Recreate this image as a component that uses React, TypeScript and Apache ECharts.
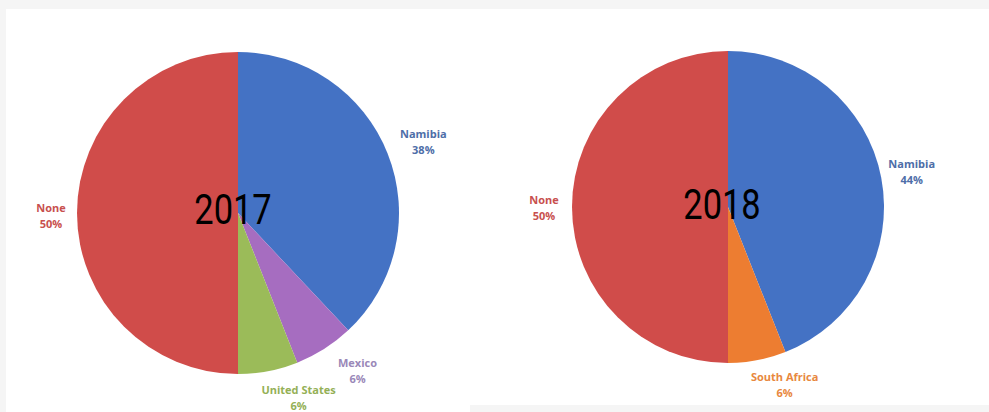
import React, { useEffect, useRef } from "react";
import * as echarts from "echarts";

const categories2017 = ["Namibia", "Mexico", "United States", "None"];
const values2017 = [38, 6, 6, 50];
const colors2017 = ["#4472C4", "#A66DC0", "#9BBB59", "#D04C4A"];
const labelColors2017 = ["#4E6EA8", "#9A88B8", "#94B056", "#C8504E"];

const categories2018 = ["Namibia", "South Africa", "None"];
const values2018 = [44, 6, 50];
const colors2018 = ["#4472C4", "#ED7D31", "#D04C4A"];
const labelColors2018 = ["#4E6EA8", "#E8883E", "#C8504E"];

const yearLabels = ["2017", "2018"];

// label nudges (layout only)
const labelShift2017 = [[4, 0], [15, -7], [24, -7], [8, 2]];
const labelShift2018 = [[2, -1], [22, -4], [1, 0]];

function buildData(cats: string[], vals: number[], cols: string[]) {
  return cats.map((c, i) => ({ name: c, value: vals[i], itemStyle: { color: cols[i] } }));
}

function buildLabelData(cats: string[], vals: number[], lcols: string[]) {
  return cats.map((c, i) => ({
    name: c,
    value: vals[i],
    itemStyle: { color: "rgba(0,0,0,0)" },
    label: { color: lcols[i] },
  }));
}

export default function App() {
  const ref = useRef<HTMLDivElement>(null);
  useEffect(() => {
    document.body.style.margin = "0";
    if (!ref.current) return;
    const chart = echarts.init(ref.current, undefined, { renderer: "svg" });
    const labelStyle = {
      show: true,
      position: "inside" as const,
      formatter: (p: any) => `${p.name}\n${p.value}%`,
      fontSize: 11,
      fontWeight: "bold" as const,
      lineHeight: 16,
      fontFamily: "'Open Sans', 'Liberation Sans', sans-serif",
    };
    const yearFont = "Roboto, 'Liberation Sans', sans-serif";
    chart.setOption({
      animation: false,
      backgroundColor: "#f5f5f5",
      graphic: [
        { type: "rect", z: -10, shape: { x: 6, y: 9, width: 983, height: 396 }, style: { fill: "#ffffff" } },
        { type: "rect", z: -10, shape: { x: 6, y: 400, width: 464, height: 12 }, style: { fill: "#ffffff" } },
        {
          type: "text", z: 100, x: 233, y: 209, scaleX: 0.82,
          style: { text: yearLabels[0], fontSize: 42, fontWeight: 400, fontFamily: yearFont, fill: "#000", align: "center", verticalAlign: "middle" },
        },
        {
          type: "text", z: 100, x: 722, y: 204, scaleX: 0.82,
          style: { text: yearLabels[1], fontSize: 42, fontWeight: 400, fontFamily: yearFont, fill: "#000", align: "center", verticalAlign: "middle" },
        },
      ],
      series: [
        {
          type: "pie", center: [238, 213], radius: 161, startAngle: 90, clockwise: true,
          label: { show: false }, labelLine: { show: false }, silent: true,
          data: buildData(categories2017, values2017, colors2017),
        },
        {
          type: "pie", center: [238, 213], radius: [178, 206], startAngle: 90, clockwise: true,
          label: labelStyle, labelLine: { show: false }, silent: true,
          labelLayout: (p: any) => ({ dx: labelShift2017[p.dataIndex][0], dy: labelShift2017[p.dataIndex][1] }),
          data: buildLabelData(categories2017, values2017, labelColors2017),
        },
        {
          type: "pie", center: [728, 207], radius: 156, startAngle: 90, clockwise: true,
          label: { show: false }, labelLine: { show: false }, silent: true,
          data: buildData(categories2018, values2018, colors2018),
        },
        {
          type: "pie", center: [728, 207], radius: [168, 196], startAngle: 90, clockwise: true,
          label: labelStyle, labelLine: { show: false }, silent: true,
          labelLayout: (p: any) => ({ dx: labelShift2018[p.dataIndex][0], dy: labelShift2018[p.dataIndex][1] }),
          data: buildLabelData(categories2018, values2018, labelColors2018),
        },
      ],
    });
    return () => chart.dispose();
  }, []);
  return <div ref={ref} style={{ width: 989, height: 412 }} />;
}
